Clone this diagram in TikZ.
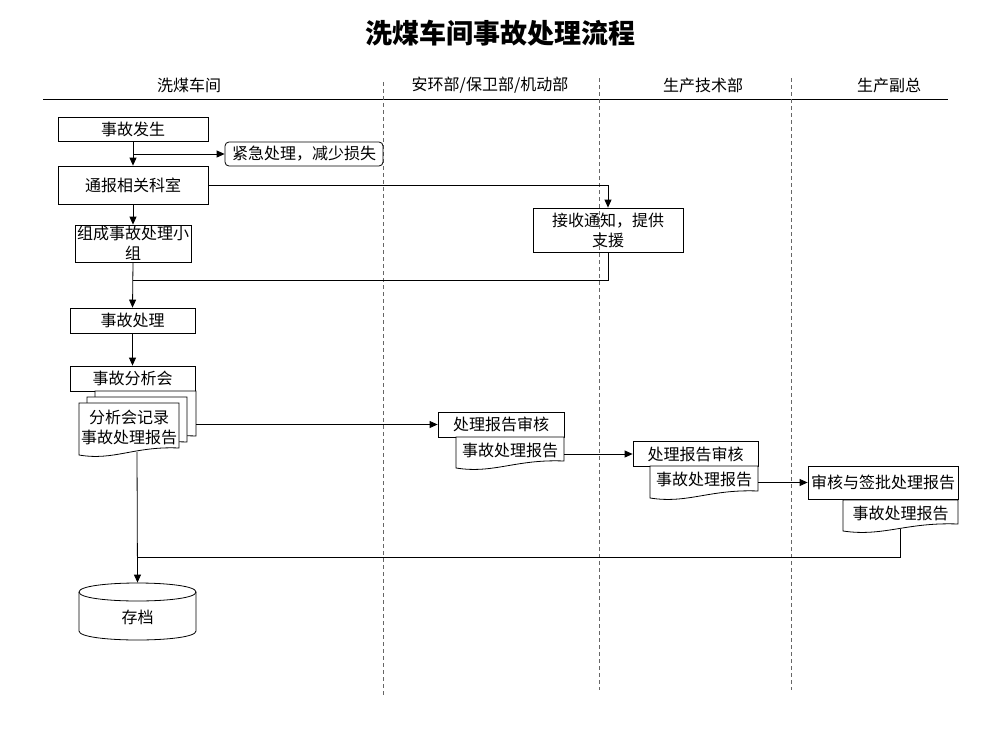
\documentclass[tikz,border=0pt]{standalone}
\usepackage{fontspec}
\setmainfont{Noto Sans CJK SC}
\usetikzlibrary{arrows.meta,calc}
\newcommand\docpath[4]{% x0, x1, top, bottom-left
  \draw[fill=white] (#1,#3) -- (#2,#3) -- (#2,{#4-7})
    .. controls ({#1+0.55*(#2-#1)},{#4-9}) and ({#1+0.35*(#2-#1)},{#4+6}) .. (#1,#4) -- cycle;}
\begin{document}
\begin{tikzpicture}[x=1pt,y=-1pt,line width=0.8pt,
  lbl/.style={font=\fontsize{16}{20}\selectfont, inner sep=0pt, align=center},
  box/.style={lbl, draw},
  ghost/.style={lbl},
  arr/.style={-{Triangle[length=8pt,width=7pt]}},
  lane/.style={draw=black!60, line width=0.6pt, dash pattern=on 4pt off 3pt}]
\useasboundingbox (0,0) rectangle (999,750);

% title and lanes
\node[font=\fontsize{27}{32}\selectfont\bfseries] (title) at (500,33) {洗煤车间事故处理流程};
\node[lbl] (h1) at (189,85) {洗煤车间};
\node[lbl] (h2) at (490,85) {安环部/保卫部/机动部};
\node[lbl] (h3) at (703,85) {生产技术部};
\node[lbl] (h4) at (889,85) {生产副总};
\draw[line width=0.8pt] (43,99) -- (948,99);
\draw[lane] (383,82) -- (383,695);
\draw[lane] (599,78) -- (599,690);
\draw[lane] (791,78) -- (791,690);

% lane 1
\node[box, minimum width=150pt, minimum height=24pt] (n1) at (133,129) {事故发生};
\node[box, rounded corners=4pt, minimum width=158pt, minimum height=24pt] (n2) at (304,154) {紧急处理，减少损失};
\node[box, minimum width=150pt, minimum height=38pt] (n3) at (133,185) {通报相关科室};
\node[box, minimum width=116pt, minimum height=37pt] (n5) at (133,243.5) {组成事故处理小\\组};
\node[box, minimum width=125pt, minimum height=25pt] (n6) at (132.5,320.5) {事故处理};
\node[box, minimum width=125pt, minimum height=25pt] (n7) at (132.5,378.5) {事故分析会};

% multi-document
\docpath{95}{196}{391}{443}
\docpath{87}{187}{397}{449}
\docpath{79}{179}{403}{455}
\node[ghost, minimum width=101pt, minimum height=45pt] (back) at (145.5,413.5) {};
\node[ghost, minimum width=100pt, minimum height=48pt] (front) at (129,427) {分析会记录\\事故处理报告};

% archive cylinder
\draw[fill=white] (79,592) -- (79,631) .. controls (79,643) and (196,643) .. (196,631) -- (196,592);
\draw (79,592) .. controls (79,580) and (196,580) .. (196,592) .. controls (196,604) and (79,604) .. (79,592);
\node[ghost, minimum width=117pt, minimum height=57pt] (arch) at (137.5,611.5) {};
\node[lbl] (archtxt) at (137.5,617) {存档};

% lane 3 support box
\node[box, minimum width=150pt, minimum height=44pt] (n4) at (608,230) {接收通知，提供\\支援};

% lane 2
\node[box, minimum width=126pt, minimum height=25pt] (n8) at (501,424.5) {处理报告审核};
\docpath{456}{564}{437}{468}
\node[ghost, minimum width=108pt, minimum height=26pt] (d2) at (510,450) {事故处理报告};

% lane 3
\node[box, minimum width=125pt, minimum height=25pt] (n9) at (695.5,454) {处理报告审核};
\docpath{650}{758}{466}{498}
\node[ghost, minimum width=108pt, minimum height=26pt] (d3) at (704,479) {事故处理报告};

% lane 4
\node[box, minimum width=150pt, minimum height=33pt] (n10) at (883,482.5) {审核与签批处理报告};
\docpath{843}{958}{500}{531}
\node[ghost, minimum width=115pt, minimum height=26pt] (d4) at (900.5,513) {事故处理报告};

% connectors
\coordinate (j) at (133,280);
\coordinate (fb) at (137,452);
\coordinate (d4b) at (900,529);
\coordinate (k) at (137,557);

\draw[arr] (n1.south) -- (n3.north);
\draw[arr] (n1.south |- n2.west) -- (n2.west);
\draw[arr] (n3.east) -| (n4.north);
\draw[arr] (n3.south) -- (n5.north);
\draw[arr] (n5.south) -- (n6.north);
\draw (n4.south) |- (j);
\draw[arr] (n6.south) -- (n7.north);
\draw[arr] (n8.west -| back.east) -- (n8.west);
\draw[arr] (n9.west -| d2.east) -- (n9.west);
\draw[arr] (n10.west -| d3.east) -- (n10.west);
\draw (d4b) |- (k);
\draw[arr] (fb) -- (arch.north);
\end{tikzpicture}
\end{document}
